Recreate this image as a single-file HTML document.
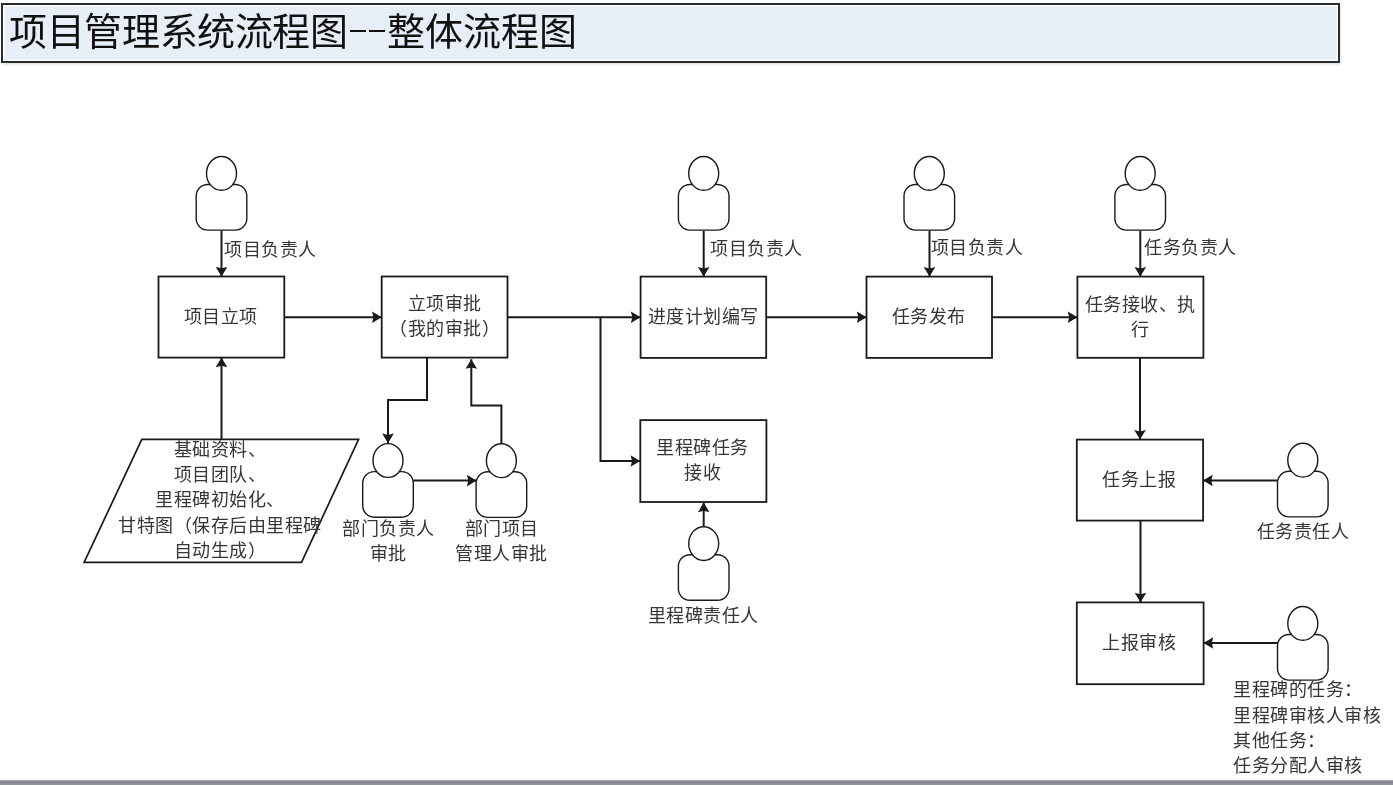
<!DOCTYPE html>
<html lang="zh-CN"><head><meta charset="utf-8"><style>
html,body{margin:0;padding:0;background:#fff;width:1393px;height:785px;overflow:hidden;position:relative}
.t{position:absolute;font-family:"Liberation Sans",sans-serif;font-size:18px;letter-spacing:0.5px;color:#363636;text-spacing-trim:space-all;white-space:nowrap}
#title{position:absolute;left:1px;top:2.5px;width:1335px;height:56.2px;border:2px solid #2a2e33;background:#e8eef8;box-shadow:inset 0 0 0 1.5px #fff, 1px 2px 2px rgba(0,0,0,0.10)}
#tt,#tt2{position:absolute;left:9px;top:11.5px;font-family:"Liberation Serif",serif;font-size:38px;line-height:40px;color:#111;white-space:nowrap}
#tt{left:9.3px;letter-spacing:-0.4px}
#tt2{left:387px}
.dash{position:absolute;top:29.5px;width:16.8px;height:2.1px;background:#111}
#bar{position:absolute;left:0;top:780px;width:1393px;height:5px;background:linear-gradient(#b4b7ba 0%,#83878b 35%,#84888c 55%,#909398 80%,#919499 100%)}
svg{position:absolute;left:0;top:0}
svg,.t,#tt,#tt2,#title,.dash{filter:blur(0.4px)}
</style></head><body>
<div id="title"></div>
<div id="tt">项目管理系统流程图</div><div id="tt2">整体流程图</div><div class="dash" style="left:349.5px"></div><div class="dash" style="left:368.6px"></div>
<svg width="1393" height="785" viewBox="0 0 1393 785">
<path d="M221.5,230.5 L221.5,276.5" fill="none" stroke="#1a1a1a" stroke-width="2.0"/>
<path d="M221.5,276.5 L227.3,266.9 L221.5,268.3 L215.7,266.9 Z" fill="#1a1a1a"/>
<path d="M284.3,317.2 L381.7,317.2" fill="none" stroke="#1a1a1a" stroke-width="2.0"/>
<path d="M381.7,317.2 L372.1,311.4 L373.5,317.2 L372.1,323.0 Z" fill="#1a1a1a"/>
<path d="M507.5,317.2 L640.5,317.2" fill="none" stroke="#1a1a1a" stroke-width="2.0"/>
<path d="M640.5,317.2 L630.9,311.4 L632.3,317.2 L630.9,323.0 Z" fill="#1a1a1a"/>
<path d="M600.5,317.2 L600.5,461 L640.2,461" fill="none" stroke="#1a1a1a" stroke-width="2.0"/>
<path d="M640.2,461.0 L630.6,455.2 L632.0,461.0 L630.6,466.8 Z" fill="#1a1a1a"/>
<path d="M703.7,230.7 L703.7,276.6" fill="none" stroke="#1a1a1a" stroke-width="2.0"/>
<path d="M703.7,276.6 L709.5,267.0 L703.7,268.4 L697.9,267.0 Z" fill="#1a1a1a"/>
<path d="M703.7,526.4 L703.7,502.6" fill="none" stroke="#1a1a1a" stroke-width="2.0"/>
<path d="M703.7,502.6 L697.9,512.2 L703.7,510.8 L709.5,512.2 Z" fill="#1a1a1a"/>
<path d="M766.2,317.2 L866.5,317.2" fill="none" stroke="#1a1a1a" stroke-width="2.0"/>
<path d="M866.5,317.2 L856.9,311.4 L858.3,317.2 L856.9,323.0 Z" fill="#1a1a1a"/>
<path d="M929.5,230.7 L929.5,276.6" fill="none" stroke="#1a1a1a" stroke-width="2.0"/>
<path d="M929.5,276.6 L935.3,267.0 L929.5,268.4 L923.7,267.0 Z" fill="#1a1a1a"/>
<path d="M992,317.2 L1077.4,317.2" fill="none" stroke="#1a1a1a" stroke-width="2.0"/>
<path d="M1077.4,317.2 L1067.8,311.4 L1069.2,317.2 L1067.8,323.0 Z" fill="#1a1a1a"/>
<path d="M1140.3,230.7 L1140.3,276.6" fill="none" stroke="#1a1a1a" stroke-width="2.0"/>
<path d="M1140.3,276.6 L1146.1,267.0 L1140.3,268.4 L1134.5,267.0 Z" fill="#1a1a1a"/>
<path d="M1140,357.8 L1140,439.6" fill="none" stroke="#1a1a1a" stroke-width="2.0"/>
<path d="M1140.0,439.6 L1145.8,430.0 L1140.0,431.4 L1134.2,430.0 Z" fill="#1a1a1a"/>
<path d="M1140.5,520.6 L1140.5,602.4" fill="none" stroke="#1a1a1a" stroke-width="2.0"/>
<path d="M1140.5,602.4 L1146.3,592.8 L1140.5,594.2 L1134.7,592.8 Z" fill="#1a1a1a"/>
<path d="M1277.2,480.5 L1203.1,480.5" fill="none" stroke="#1a1a1a" stroke-width="2.0"/>
<path d="M1203.1,480.5 L1212.7,486.3 L1211.3,480.5 L1212.7,474.7 Z" fill="#1a1a1a"/>
<path d="M1277.5,643 L1203.6,643" fill="none" stroke="#1a1a1a" stroke-width="2.0"/>
<path d="M1203.6,643.0 L1213.2,648.8 L1211.8,643.0 L1213.2,637.2 Z" fill="#1a1a1a"/>
<path d="M221.5,439.4 L221.5,357.6" fill="none" stroke="#1a1a1a" stroke-width="2.0"/>
<path d="M221.5,357.6 L215.7,367.2 L221.5,365.8 L227.3,367.2 Z" fill="#1a1a1a"/>
<path d="M427,357.6 L427,400 L388,400 L388,443.2" fill="none" stroke="#1a1a1a" stroke-width="2.0"/>
<path d="M388.0,443.2 L393.8,433.6 L388.0,435.0 L382.2,433.6 Z" fill="#1a1a1a"/>
<path d="M501.4,444 L501.4,405.5 L471.3,405.5 L471.3,359.2" fill="none" stroke="#1a1a1a" stroke-width="2.0"/>
<path d="M471.3,359.2 L465.5,368.8 L471.3,367.4 L477.1,368.8 Z" fill="#1a1a1a"/>
<path d="M413.4,480.6 L476.5,480.6" fill="none" stroke="#1a1a1a" stroke-width="2.0"/>
<path d="M476.5,480.6 L466.9,474.8 L468.3,480.6 L466.9,486.4 Z" fill="#1a1a1a"/>
<rect x="158.5" y="276.5" width="125.8" height="81.1" fill="#fff" stroke="#1a1a1a" stroke-width="1.8"/>
<rect x="381.7" y="276.5" width="125.8" height="81.1" fill="#fff" stroke="#1a1a1a" stroke-width="1.8"/>
<rect x="640.6" y="276.6" width="125.6" height="81.3" fill="#fff" stroke="#1a1a1a" stroke-width="1.8"/>
<rect x="640.3" y="420.1" width="126.1" height="81.9" fill="#fff" stroke="#1a1a1a" stroke-width="1.8"/>
<rect x="866.5" y="276.6" width="125.5" height="81.3" fill="#fff" stroke="#1a1a1a" stroke-width="1.8"/>
<rect x="1077.4" y="276.6" width="126.0" height="81.2" fill="#fff" stroke="#1a1a1a" stroke-width="1.8"/>
<rect x="1076.8" y="439.6" width="126.3" height="81.0" fill="#fff" stroke="#1a1a1a" stroke-width="1.8"/>
<rect x="1076.8" y="602.4" width="126.8" height="81.8" fill="#fff" stroke="#1a1a1a" stroke-width="1.8"/>
<path d="M141.8,439.4 L358.6,439.4 L301.5,562.4 L84.1,562.4 Z" fill="#fff" stroke="#1a1a1a" stroke-width="1.7"/>
<rect x="196.2" y="184.5" width="50.6" height="45.6" rx="11.5" ry="11.5" fill="#fff" stroke="#1a1a1a" stroke-width="1.4"/>
<ellipse cx="221.5" cy="173.39999999999998" rx="15" ry="16.9" fill="#fff" stroke="#1a1a1a" stroke-width="1.4"/>
<rect x="678.4" y="184.5" width="50.6" height="45.6" rx="11.5" ry="11.5" fill="#fff" stroke="#1a1a1a" stroke-width="1.4"/>
<ellipse cx="703.7" cy="173.39999999999998" rx="15" ry="16.9" fill="#fff" stroke="#1a1a1a" stroke-width="1.4"/>
<rect x="904.0" y="184.5" width="50.6" height="45.6" rx="11.5" ry="11.5" fill="#fff" stroke="#1a1a1a" stroke-width="1.4"/>
<ellipse cx="929.3" cy="173.39999999999998" rx="15" ry="16.9" fill="#fff" stroke="#1a1a1a" stroke-width="1.4"/>
<rect x="1114.9" y="184.5" width="50.6" height="45.6" rx="11.5" ry="11.5" fill="#fff" stroke="#1a1a1a" stroke-width="1.4"/>
<ellipse cx="1140.2" cy="173.39999999999998" rx="15" ry="16.9" fill="#fff" stroke="#1a1a1a" stroke-width="1.4"/>
<rect x="362.7" y="471.6" width="50.6" height="45.6" rx="11.5" ry="11.5" fill="#fff" stroke="#1a1a1a" stroke-width="1.4"/>
<ellipse cx="388" cy="460.5" rx="15" ry="16.9" fill="#fff" stroke="#1a1a1a" stroke-width="1.4"/>
<rect x="476.1" y="471.8" width="50.6" height="45.6" rx="11.5" ry="11.5" fill="#fff" stroke="#1a1a1a" stroke-width="1.4"/>
<ellipse cx="501.4" cy="460.7" rx="15" ry="16.9" fill="#fff" stroke="#1a1a1a" stroke-width="1.4"/>
<rect x="678.4" y="554.7" width="50.6" height="45.6" rx="11.5" ry="11.5" fill="#fff" stroke="#1a1a1a" stroke-width="1.4"/>
<ellipse cx="703.7" cy="543.6" rx="15" ry="16.9" fill="#fff" stroke="#1a1a1a" stroke-width="1.4"/>
<rect x="1277.5" y="471.3" width="50.6" height="45.6" rx="11.5" ry="11.5" fill="#fff" stroke="#1a1a1a" stroke-width="1.4"/>
<ellipse cx="1302.8" cy="460.2" rx="15" ry="16.9" fill="#fff" stroke="#1a1a1a" stroke-width="1.4"/>
<rect x="1277.5" y="634.5" width="50.6" height="45.6" rx="11.5" ry="11.5" fill="#fff" stroke="#1a1a1a" stroke-width="1.4"/>
<ellipse cx="1302.8" cy="623.4000000000001" rx="15" ry="16.9" fill="#fff" stroke="#1a1a1a" stroke-width="1.4"/>
</svg>
<div class="t" style="left:224px;top:237.5px;width:300px;text-align:left;line-height:25px">项目负责人</div><div class="t" style="left:710px;top:236.8px;width:300px;text-align:left;line-height:25px">项目负责人</div><div class="t" style="left:930.6px;top:236.20000000000002px;width:300px;text-align:left;line-height:25px">项目负责人</div><div class="t" style="left:1144.3px;top:236.20000000000002px;width:300px;text-align:left;line-height:25px">任务负责人</div><div class="t" style="left:70.80000000000001px;top:304.8px;width:300px;text-align:center;line-height:25px">项目立项</div><div class="t" style="left:294.6px;top:291.8px;width:300px;text-align:center;line-height:25px">立项审批<br>（我的审批）</div><div class="t" style="left:553.1px;top:304.8px;width:300px;text-align:center;line-height:25px">进度计划编写</div><div class="t" style="left:552.5px;top:436.0px;width:300px;text-align:center;line-height:25px">里程碑任务<br>接收</div><div class="t" style="left:778.5px;top:304.8px;width:300px;text-align:center;line-height:25px">任务发布</div><div class="t" style="left:1080.4px;top:292.8px;width:120px;text-align:center;line-height:25px">任务接收、执<br>行</div><div class="t" style="left:989.0px;top:467.8px;width:300px;text-align:center;line-height:25px">任务上报</div><div class="t" style="left:989.0px;top:631.3px;width:300px;text-align:center;line-height:25px">上报审核</div><div class="t" style="left:238.3px;top:517.3px;width:300px;text-align:center;line-height:25px">部门负责人<br>审批</div><div class="t" style="left:351.5px;top:517.3px;width:300px;text-align:center;line-height:25px">部门项目<br>管理人审批</div><div class="t" style="left:553.0px;top:604.0px;width:300px;text-align:center;line-height:25px">里程碑责任人</div><div class="t" style="left:1153.0px;top:519.6999999999999px;width:300px;text-align:center;line-height:25px">任务责任人</div><div class="t" style="left:1233px;top:678.25px;width:300px;text-align:left;line-height:25.3px">里程碑的任务：<br>里程碑审核人审核<br>其他任务：<br>任务分配人审核</div><div class="t" style="left:70.0px;top:437.85px;width:300px;text-align:center;line-height:25.3px">基础资料、<br>项目团队、<br>里程碑初始化、<br>甘特图（保存后由里程碑<br>自动生成）</div>
<div id="bar"></div>
</body></html>
